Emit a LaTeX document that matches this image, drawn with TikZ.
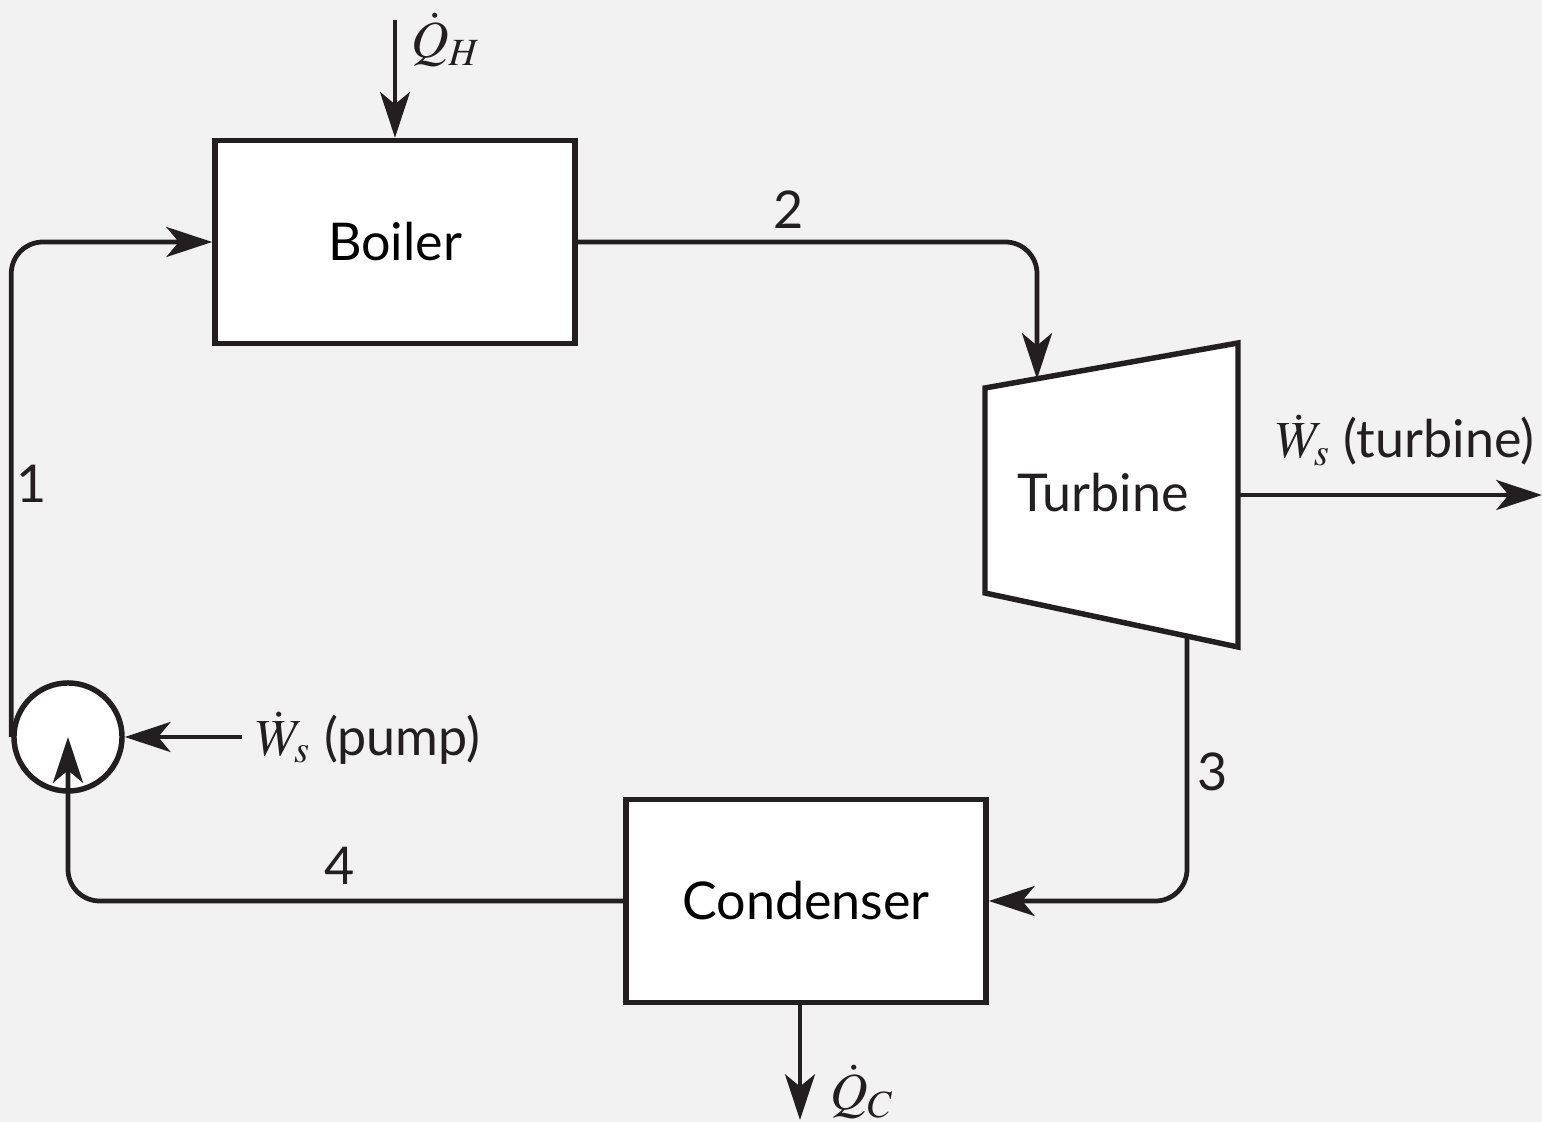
\documentclass[tikz,border=0pt]{standalone}
\usepackage{mathptmx}
\usepackage{fontspec}
\setmainfont{Lato}
\usepackage{tikz}
\usetikzlibrary{arrows.meta, positioning}
\definecolor{PanelGray}{RGB}{242,242,242}
\definecolor{InkBlack}{RGB}{35,31,32}

\begin{document}
\begin{tikzpicture}[x=0.01cm, y=-0.01cm,
            unit/.style={rectangle, draw=InkBlack, line width=1.55pt, fill=white,
                         font=\fontsize{14.8}{18}\selectfont},
            flow/.style={-{Stealth[length=13pt, width=8.5pt, inset=3.5pt]}, draw=InkBlack,
                         line width=1.35pt},
            lbl/.style={text=InkBlack, font=\fontsize{14.8}{18}\selectfont, inner sep=0pt}
          ]
          \fill[PanelGray] (0,0) rectangle (1542,1122);
          \useasboundingbox (0,0) rectangle (1542,1122);

          % equipment
          \node[unit, minimum width=3.6cm, minimum height=2.03cm] (boiler) at (395,242) {Boiler};
          \node[unit, minimum width=3.6cm, minimum height=2.03cm] (condenser) at (806,901) {Condenser};
          \node[unit, circle, minimum size=1.08cm, inner sep=0pt] (pump) at (68,737) {};
          \draw[InkBlack, line width=1.55pt, fill=white, line join=miter]
                (985,388) -- (1238,343) -- (1238,647) -- (985,593) -- cycle;
          \node[lbl] (turbine) at (1103,493) {Turbine};

          % connection points
          \coordinate (tin)   at (1037,379);
          \coordinate (tex)   at (1187,636);
          \coordinate (shaft) at (1238,495);
          \coordinate (wout)  at (1542,495);
          \coordinate (qhin)  at (395,20);
          \coordinate (qcout) at (800,1120);
          \coordinate (wpin)  at (242,737);

          % streams
          \draw[flow, rounded corners=9pt] (boiler.east) -| (tin);
          \draw[flow, rounded corners=9pt] (tex) |- (condenser.east);
          \draw[flow, rounded corners=9pt] (condenser.west) -| (pump.center);
          \draw[flow, rounded corners=9pt] (pump.west) |- (boiler.west);

          % heat and work
          \draw[flow] (qhin) -- (boiler.north);
          \draw[flow] (condenser.south -| qcout) -- (qcout);
          \draw[flow] (shaft) -- (wout);
          \draw[flow] (wpin) -- (pump.east);

          \node[lbl] (s1) at (32,484) {1};
          \node[lbl] (s2) at (789,210) {2};
          \node[lbl] (s3) at (1213,772) {3};
          \node[lbl] (s4) at (340,866) {4};
          \node[lbl] (qh) at (446,40) {$\dot{Q}_H$};
          \node[lbl] (qc) at (862,1092) {$\dot{Q}_C$};
          \node[lbl] (wt) at (1405,440) {$\dot{W}_s$ (turbine)};
          \node[lbl] (wp) at (368,738) {$\dot{W}_s$ (pump)};
        \end{tikzpicture}
\end{document}
